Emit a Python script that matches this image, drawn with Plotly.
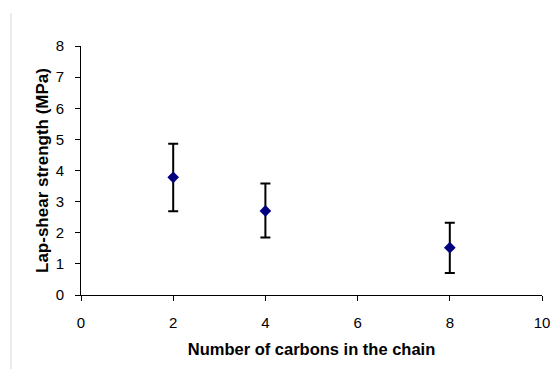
import plotly.graph_objects as go

carbons = [2, 4, 8]
strength = [3.78, 2.70, 1.52]
err_plus = [1.08, 0.88, 0.80]
err_minus = [1.09, 0.85, 0.81]

x_ticks = [0, 2, 4, 6, 8, 10]
y_ticks = [0, 1, 2, 3, 4, 5, 6, 7, 8]

fig = go.Figure()
fig.add_trace(go.Scatter(
    x=carbons, y=strength, mode="markers",
    marker=dict(symbol="diamond", size=9, color="#000080"),
    error_y=dict(type="data", symmetric=False, array=err_plus, arrayminus=err_minus,
                 color="black", thickness=2, width=5),
    showlegend=False,
))

font = dict(family="Liberation Sans, Arial, sans-serif", size=15, color="black")

fig.update_layout(
    width=553, height=369,
    margin=dict(l=81, r=11, t=46, b=74),
    paper_bgcolor="white", plot_bgcolor="white",
    font=font,
    xaxis=dict(range=[0, 10], tickvals=x_ticks, showgrid=False, zeroline=False,
               showline=True, linecolor="black", linewidth=1, automargin=False,
               ticks="outside", ticklen=5, tickcolor="black",
               ticklabelstandoff=9, ticklabeloverflow="allow",
               title=dict(text="<b>Number of carbons in the chain</b>",
                          font=dict(size=16.5), standoff=13)),
    yaxis=dict(range=[0, 8], tickvals=y_ticks, showgrid=False, zeroline=False,
               showline=True, linecolor="black", linewidth=1, automargin=False,
               ticks="outside", ticklen=5, tickcolor="black",
               ticklabelstandoff=8,
               title=dict(text="<b>Lap-shear strength (MPa)</b>",
                          font=dict(size=17), standoff=2)),
    shapes=[dict(type="line", xref="paper", yref="paper",
                 x0=-70/461, x1=-70/461, y0=-74/249, y1=(249+46-13)/249,
                 line=dict(color="#d9d9d9", width=1))],
)

fig.write_html(
    "out.html",
    config={"displayModeBar": False},
    post_script="document.body.style.margin='0';document.body.style.overflow='hidden';",
)
